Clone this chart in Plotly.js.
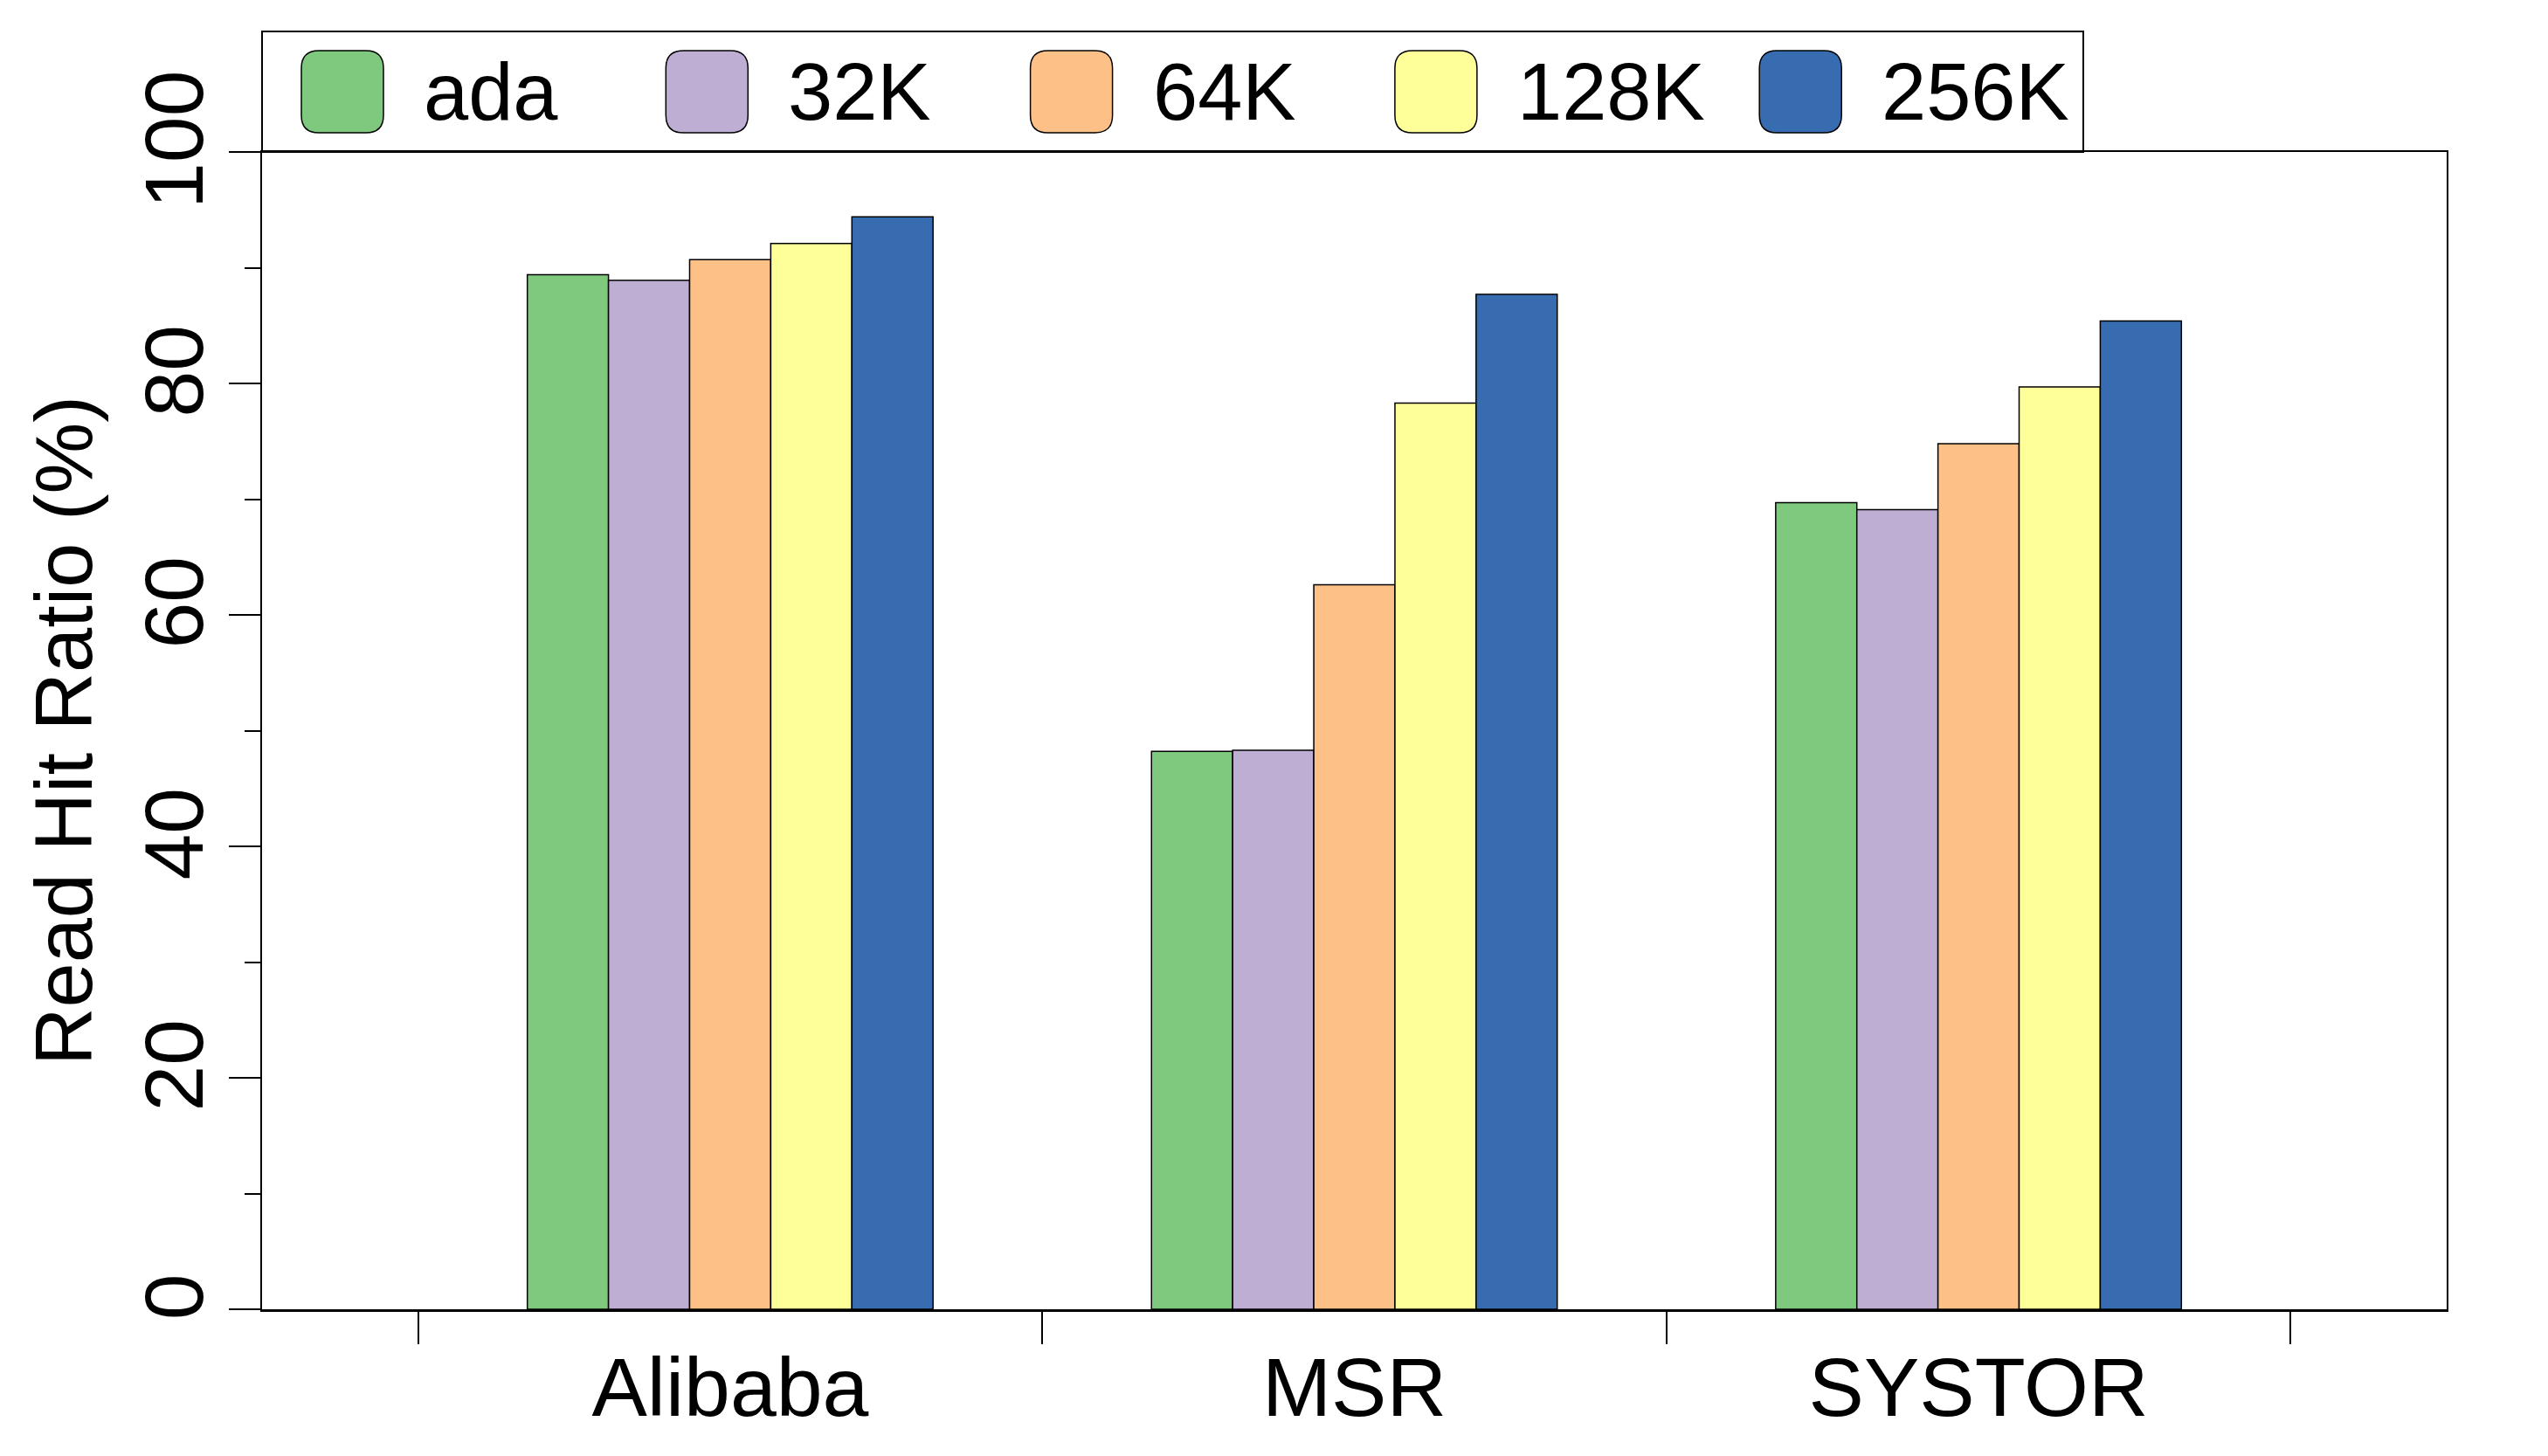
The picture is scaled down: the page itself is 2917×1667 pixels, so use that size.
<!DOCTYPE html>
<html>
<head>
<meta charset="utf-8">
<script src="https://cdn.plot.ly/plotly-3.0.1.min.js"></script>
<style>
  body { margin: 0; background: #fff; }
</style>
</head>
<body>
<div id="chart"></div>
<script>
// data
var traces = ["Alibaba", "MSR", "SYSTOR"];
var seriesNames = ["ada", "32K", "64K", "128K", "256K"];
var seriesColors = ["#7FC97F", "#BEAED4", "#FDC086", "#FFFF99", "#386CB0"];
var ada  = [89.4, 48.2, 69.7];
var k32  = [88.9, 48.3, 69.1];
var k64  = [90.7, 62.6, 74.8];
var k128 = [92.1, 78.3, 79.7];
var k256 = [94.4, 87.7, 85.4];
var values = [ada, k32, k64, k128, k256];

var W = 2917, H = 1667;
var mL = 300, mR = 116, mT = 174, mB = 168;
var plotW = W - mL - mR, plotH = H - mT - mB;
var fontFam = "Liberation Sans, Arial, Helvetica, sans-serif";

// px -> paper helpers (for the legend drawn on top)
function px(x) { return (x - mL) / plotW; }
function py(y) { return (H - mB - y) / plotH; }

var data = [];
for (var i = 0; i < seriesNames.length; i++) {
  data.push({
    x: traces,
    y: values[i],
    name: seriesNames[i],
    type: 'bar',
    marker: { color: seriesColors[i], line: { color: '#000', width: 1.5 } },
    showlegend: false
  });
}

// legend box and entries
var shapes = [{
  type: 'rect', xref: 'paper', yref: 'paper',
  x0: 0, x1: px(2385), y0: 1, y1: py(36),
  line: { color: '#000', width: 2 }, fillcolor: 'rgba(0,0,0,0)'
}];
var annotations = [];
var swW = 94, swTop = 58, swBot = 152, rad = 20, step = 417.3;
for (var j = 0; j < seriesNames.length; j++) {
  var x0 = 345 + step * j, x1 = x0 + swW;
  var rx = rad / plotW, ry = rad / plotH;
  var L = px(x0), R = px(x1), T = py(swTop), B = py(swBot);
  var path = 'M' + (L + rx) + ',' + T +
    ' L' + (R - rx) + ',' + T +
    ' Q' + R + ',' + T + ' ' + R + ',' + (T - ry) +
    ' L' + R + ',' + (B + ry) +
    ' Q' + R + ',' + B + ' ' + (R - rx) + ',' + B +
    ' L' + (L + rx) + ',' + B +
    ' Q' + L + ',' + B + ' ' + L + ',' + (B + ry) +
    ' L' + L + ',' + (T - ry) +
    ' Q' + L + ',' + T + ' ' + (L + rx) + ',' + T + ' Z';
  shapes.push({
    type: 'path', xref: 'paper', yref: 'paper', path: path,
    fillcolor: seriesColors[j], line: { color: '#000', width: 1.5 }
  });
  annotations.push({
    xref: 'paper', yref: 'paper', x: px(x1 + 44), y: py(105),
    xanchor: 'left', yanchor: 'middle', showarrow: false,
    text: seriesNames[j], font: { family: fontFam, size: 92, color: '#000' }
  });
}

var layout = {
  width: W, height: H,
  margin: { l: mL, r: mR, t: mT, b: mB },
  paper_bgcolor: '#fff', plot_bgcolor: '#fff',
  barmode: 'group', bargap: 0.35, bargroupgap: 0,
  showlegend: false,
  font: { family: fontFam, color: '#000' },
  xaxis: {
    type: 'category', range: [-0.75, 2.75],
    tickson: 'boundaries', ticks: 'outside', ticklen: 37, tickwidth: 2, tickcolor: '#000',
    ticklabelstandoff: 5,
    showline: true, linecolor: '#000', linewidth: 2.5, mirror: true,
    showgrid: false, zeroline: false,
    tickfont: { size: 95, family: fontFam }
  },
  yaxis: {
    range: [0, 100], dtick: 20, tick0: 0,
    ticks: 'outside', ticklen: 36, tickwidth: 2, tickcolor: '#000',
    minor: { dtick: 10, ticks: 'outside', ticklen: 18, tickwidth: 2, tickcolor: '#000', showgrid: false },
    tickangle: -90, ticklabelstandoff: -8,
    showline: true, linecolor: '#000', linewidth: 2, mirror: true,
    showgrid: false, zeroline: false,
    tickfont: { size: 95, family: fontFam },
    title: { text: 'Read Hit Ratio (%)', font: { size: 92, family: fontFam } }
  },
  shapes: shapes,
  annotations: annotations
};

Plotly.newPlot('chart', data, layout, { staticPlot: true });
</script>
</body>
</html>
